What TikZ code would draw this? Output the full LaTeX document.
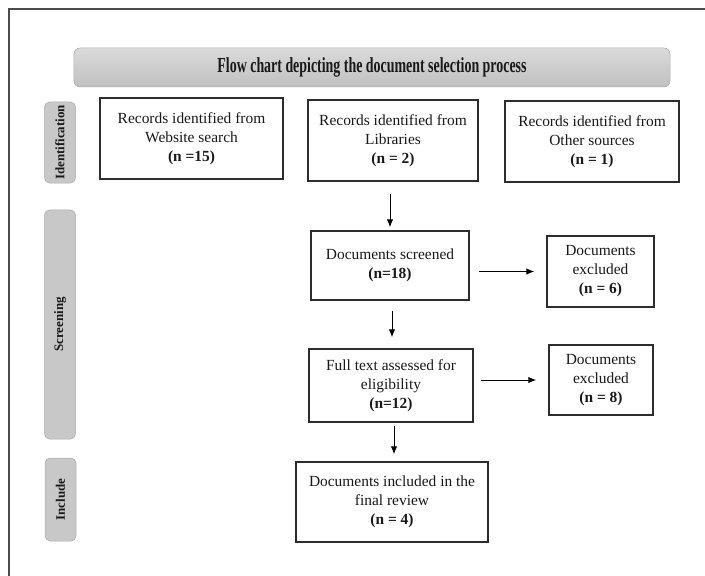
\documentclass[tikz,border=0pt]{standalone}
\usepackage{fontspec}
\setmainfont{Liberation Serif}
\newfontfamily\titlefont{Liberation Serif}[FakeStretch=0.65]
\usetikzlibrary{arrows.meta}
\definecolor{barfill}{RGB}{200,200,200}
\definecolor{bartop}{RGB}{218,218,218}
\definecolor{barbot}{RGB}{192,192,192}
\definecolor{barline}{RGB}{170,170,170}
\definecolor{boxline}{RGB}{45,45,45}
\definecolor{txt}{RGB}{25,25,25}
\begin{document}
\begin{tikzpicture}[x=1bp,y=-1bp,
  box/.style={draw=boxline, line width=1.4bp, fill=white, align=center, inner sep=0pt,
    text=txt, font=\fontsize{15.5}{19}\selectfont},
  sidebar/.style={rounded corners=5bp, fill=barfill, draw=barline, line width=0.5bp,
    minimum width=31bp, inner sep=0pt},
  sidelabel/.style={rotate=90, text=txt, font=\fontsize{13}{16}\selectfont\bfseries},
  arr/.style={draw=black, line width=1bp, -{Latex[length=8bp,width=6.5bp]}}
]
\useasboundingbox (0,0) rectangle (705,576);
% outer frame
\draw[draw=black!70, line width=1.5bp] (9,576) -- (9,9) -- (705,9);

% title bar
\node[rounded corners=6bp, top color=bartop, bottom color=barbot, draw=barline, line width=0.5bp,
  minimum width=596bp, minimum height=39bp, inner sep=0pt, text=txt,
  font=\titlefont\fontsize{21.5}{24}\selectfont\bfseries] (title) at (372,67.5)
  {Flow chart depicting the document selection process};

% side bars
\node[sidebar, minimum height=81bp] (sid) at (60,142.5) {};
\node[sidelabel] (lid) at (sid.center) {Identification};
\node[sidebar, minimum height=229bp] (sscr) at (60,324.5) {};
\node[sidelabel] (lscr) at (sscr.center) {Screening};
\node[sidebar, minimum height=83bp] (sinc) at (60.5,499.5) {};
\node[sidelabel] (linc) at (sinc.center) {Include};

% boxes
\node[box, minimum width=183bp, minimum height=81bp] (w1) at (191.5,138.5)
  {Records identified from\\ Website search\\ \textbf{(n =15)}};
\node[box, minimum width=170bp, minimum height=81bp] (w2) at (393,140.5)
  {Records identified from\\ Libraries\\ \textbf{(n = 2)}};
\node[box, minimum width=174bp, minimum height=81bp] (w3) at (592,141.5)
  {Records identified from\\ Other sources\\ \textbf{(n = 1)}};
\node[box, minimum width=158bp, minimum height=69bp] (scr) at (390,265.5)
  {Documents screened\\ \textbf{(n=18)}};
\node[box, minimum width=107bp, minimum height=71bp] (ex1) at (600.5,271.5)
  {Documents\\ excluded\\ \textbf{(n = 6)}};
\node[box, minimum width=164bp, minimum height=73bp] (full) at (391,385.5)
  {Full text assessed for\\ eligibility\\ \textbf{(n=12)}};
\node[box, minimum width=104bp, minimum height=70bp] (ex2) at (601,380)
  {Documents\\ excluded\\ \textbf{(n = 8)}};
\node[box, minimum width=192bp, minimum height=80bp] (inc) at (392,502)
  {Documents included in the\\ final review\\ \textbf{(n = 4)}};

% arrows
\draw[arr, shorten <=12bp, shorten >=3bp] (scr.north |- w2.south) -- (scr.north);
\draw[arr, shorten <=9bp, shorten >=12bp] (scr.east |- ex1.west) -- (ex1.west);
\draw[arr, shorten <=10bp, shorten >=11bp] ([xshift=2bp]scr.south) -- ([xshift=2bp]scr.south |- full.north);
\draw[arr, shorten <=7bp, shorten >=12bp] (full.east |- ex2.west) -- (ex2.west);
\draw[arr, shorten <=3bp, shorten >=7bp] ([xshift=3bp]full.south) -- ([xshift=3bp]full.south |- inc.north);
\end{tikzpicture}
\end{document}
